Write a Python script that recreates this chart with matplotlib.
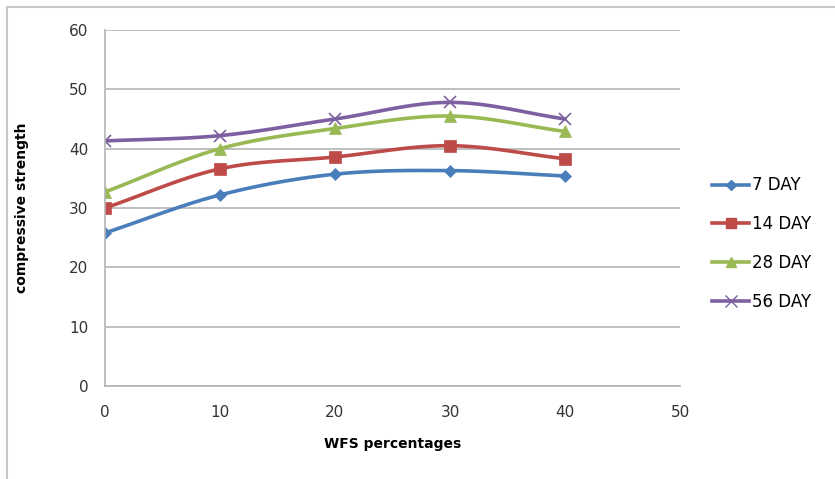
import matplotlib
matplotlib.use("Agg")
import matplotlib.pyplot as plt
import numpy as np
from matplotlib.patches import Rectangle

wfs = [0, 10, 20, 30, 40]
day7 = [25.8, 32.2, 35.7, 36.3, 35.4]
day14 = [30.0, 36.6, 38.6, 40.5, 38.3]
day28 = [32.7, 40.0, 43.4, 45.5, 42.9]
day56 = [41.3, 42.2, 45.0, 47.8, 45.0]
labels = ["7 DAY", "14 DAY", "28 DAY", "56 DAY"]


def smooth(x, y, n=30):
    # Catmull-Rom curve through the points, like Excel's smoothed line
    x = np.asarray(x, float)
    y = np.asarray(y, float)
    px = np.concatenate([[2 * x[0] - x[1]], x, [2 * x[-1] - x[-2]]])
    py = np.concatenate([[2 * y[0] - y[1]], y, [2 * y[-1] - y[-2]]])
    xs, ys = [], []
    t = np.linspace(0, 1, n)
    for i in range(1, len(px) - 2):
        for p, out in ((px, xs), (py, ys)):
            p0, p1, p2, p3 = p[i - 1], p[i], p[i + 1], p[i + 2]
            out.extend(0.5 * (2 * p1 + (-p0 + p2) * t
                              + (2 * p0 - 5 * p1 + 4 * p2 - p3) * t ** 2
                              + (-p0 + 3 * p1 - 3 * p2 + p3) * t ** 3))
    return np.array(xs), np.array(ys)


fig = plt.figure(figsize=(8.35, 4.79), dpi=100)
fig.patches.append(Rectangle((7 / 835, -0.05), 1.1, 1 - 7 / 479 + 0.05,
                             transform=fig.transFigure, fill=False,
                             edgecolor="#c8c8c8", linewidth=1.5))
ax = fig.add_axes([105 / 835, 1 - 386 / 479, 575 / 835, 356 / 479])

series = [
    (day7, "#4a7ebb", "D", 6.5),
    (day14, "#be4b48", "s", 8),
    (day28, "#98b954", "^", 8),
    (day56, "#7d60a0", "x", 9),
]
for (vals, color, marker, ms), label in zip(series, labels):
    sx, sy = smooth(wfs, vals)
    ax.plot(sx, sy, color=color, linewidth=2.6)
    ax.plot(wfs, vals, linestyle="none", marker=marker, markersize=ms,
            color=color, markeredgewidth=1.2 if marker == "x" else 0.5)
    ax.plot([], [], color=color, linewidth=2.6, marker=marker,
            markersize=ms - 1, label=label)

ax.set_xlim(0, 50)
ax.set_ylim(0, 60)
ax.set_xticks(range(0, 51, 10))
ax.set_yticks(range(0, 61, 10))
ax.grid(axis="y", color="#b4b4b4", linewidth=1.2)
ax.set_axisbelow(True)
for side in ("top", "right"):
    ax.spines[side].set_visible(False)
for side in ("left", "bottom"):
    ax.spines[side].set_color("#b4b4b4")
    ax.spines[side].set_linewidth(1.2)
ax.tick_params(length=0, labelsize=11, colors="#333333")
ax.tick_params(axis="x", pad=14)
ax.tick_params(axis="y", pad=12)
ax.set_xlabel("WFS percentages", fontsize=10, fontweight="bold", labelpad=12)
ax.set_ylabel("compressive strength", fontsize=10, fontweight="bold", labelpad=29)

ax.legend(loc="center left", bbox_to_anchor=(1.03, 0.40), frameon=False,
          fontsize=12, labelspacing=1.25, handlelength=2.2, handletextpad=0.2)

fig.savefig("out.png", dpi=100)
